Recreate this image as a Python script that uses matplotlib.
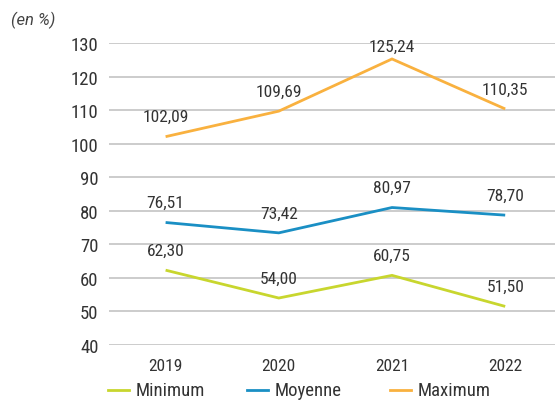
import matplotlib
matplotlib.use("Agg")
import matplotlib.pyplot as plt
from matplotlib.lines import Line2D

years = ["2019", "2020", "2021", "2022"]
minimum = [62.30, 54.00, 60.75, 51.50]
moyenne = [76.51, 73.42, 80.97, 78.70]
maximum = [102.09, 109.69, 125.24, 110.35]
series_names = ["Minimum", "Moyenne", "Maximum"]
y_ticks = [40, 50, 60, 70, 80, 90, 100, 110, 120, 130]

colors = ["#c8d62e", "#1a8fc4", "#f9b13f"]
text_color = "#333333"
plt.rcParams["font.family"] = ["Roboto Condensed", "DejaVu Sans"]

W, H = 555, 402
fig = plt.figure(figsize=(W / 100, H / 100), dpi=100)
ax = fig.add_axes([109 / W, 1 - 346 / H, 446 / W, 302 / H])

y_min, y_max = 40, 130
px_per_unit = 302 / (y_max - y_min)

x = list(range(len(years)))
for vals, c in zip([minimum, moyenne, maximum], colors):
    ax.plot(x, vals, color=c, lw=2.0, solid_capstyle="butt", solid_joinstyle="miter")
    for xi, v in zip(x, vals):
        # keep the value label inside the plotting area
        room = (y_max - v) * px_per_unit - 3
        off = min(20, room)
        ax.annotate(f"{v:.2f}".replace(".", ","), (xi, v), xytext=(0, off),
                    textcoords="offset pixels", ha="center", va="center",
                    fontsize=12.5, color=text_color)

ax.set_ylim(y_min, y_max)
ax.set_yticks(y_ticks)
ax.set_xlim(-0.5, 3.44)
ax.set_xticks(x)
ax.set_xticklabels(years)
ax.yaxis.grid(True, color="#c8c8c8", lw=1.3)
ax.set_axisbelow(True)
for s in ax.spines.values():
    s.set_visible(False)
ax.tick_params(axis="y", length=0, labelsize=13.5, pad=7.5, labelcolor=text_color)
ax.tick_params(axis="x", length=0, labelsize=12.5, pad=9.5, labelcolor=text_color)

fig.text(11 / W, 1 - 20 / H, "(en %)", fontsize=12, style="italic", color="#444444",
         ha="left", va="center", family=["Roboto", "DejaVu Sans"])

# legend row along the bottom edge
legend_y = 1 - 391 / H
handle_x = [108, 247, 390]
for hx, name, c in zip(handle_x, series_names, colors):
    fig.add_artist(Line2D([hx / W, (hx + 21) / W], [legend_y, legend_y], color=c, lw=2.0,
                          transform=fig.transFigure))
    fig.text((hx + 28) / W, legend_y, name, fontsize=13.5, color=text_color,
             ha="left", va="center")

fig.savefig("out.png", dpi=100)
